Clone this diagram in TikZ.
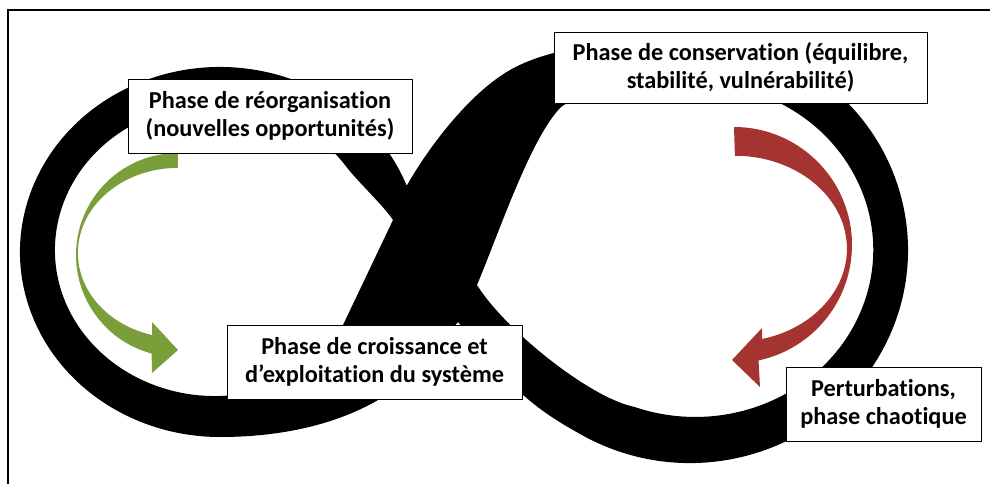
\documentclass[tikz,border=0pt]{standalone}
\usepackage{fontspec}
\setmainfont[Ligatures={NoCommon}]{Carlito}
\definecolor{vertolive}{RGB}{122,158,58}
\definecolor{rougebrique}{RGB}{165,52,49}
\tikzset{   phase/.style = {rectangle, draw = black, line width = 0.8, fill = white, align = center, inner sep = 0pt, font = \bfseries\fontsize{24.3}{28.5}\selectfont},
            boucle/.style = {fill = black, even odd rule}}

\begin{document}
\begin{tikzpicture}[x=1pt, y=-1pt]
                        \useasboundingbox (0,0) rectangle (990,484);
                        \draw[line width=2.5] (8,484) -- (8,10) -- (990,10);
                        \fill[boucle]
                          (406.7,185.7) arc[start angle=339, end angle=90, x radius=200, y radius=185]
                            .. controls (310,437) and (380,410) .. (420,367) -- (458,322)
                            -- (500,372) .. controls (530,405) and (555,420) .. (581,434.5)
                            arc[start angle=120, end angle=-100, x radius=218, y radius=213]
                            .. controls (600,42) and (545,50) .. (510,70)
                            .. controls (470,93) and (430,145) .. (406.7,185.7) -- cycle
                          (393,220) .. controls (383,205) and (358,182) .. (346,166.3)
                            arc[start angle=325, end angle=75, x radius=160, y radius=146]
                            .. controls (295,381) and (330,352) .. (343,325) -- cycle
                          (477,285) .. controls (500,230) and (530,140) .. (560,108)
                            .. controls (572,95) and (597,108.7) .. (620,98.6)
                            arc[start angle=245, end angle=470, x radius=178, y radius=167]
                            .. controls (590,398) and (505,330) .. (477,285) -- cycle;
                        \fill[vertolive] (178,153) arc[start angle=270, end angle=105, radius=102] -- (152,373) -- (178,350) -- (152,322) -- (152,335) arc[start angle=105, end angle=270, x radius=100, y radius=85] -- cycle;
                        \fill[rougebrique] (734,127) arc[start angle=270, end angle=438, radius=118] -- (760,387) -- (732,360) -- (762,328) -- (762,339) arc[start angle=436, end angle=270, x radius=112, y radius=93] -- cycle;
                        \node[phase, minimum width=284, minimum height=74] (reorg) at (270,116) {Phase de réorganisation\\(nouvelles opportunités)};
                        \node[phase, minimum width=373, minimum height=71] (conserv) at (740.5,67.5) {Phase de conservation (équilibre,\\stabilité, vulnérabilité)};
                        \node[phase, minimum width=295, minimum height=74] (croiss) at (374.5,362) {Phase de croissance et\\d’exploitation du système};
                        \node[phase, minimum width=195, minimum height=74] (pertu) at (883.5,404) {Perturbations,\\phase chaotique};
                      \end{tikzpicture}
\end{document}
